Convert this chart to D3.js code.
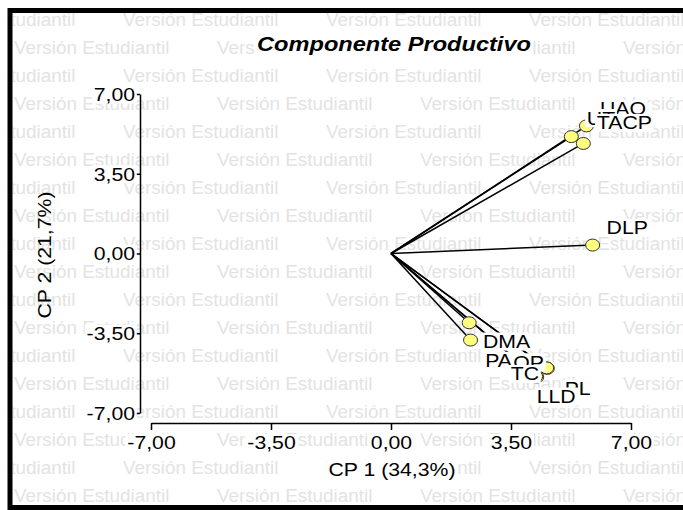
<!DOCTYPE html>
<html><head><meta charset="utf-8">
<script src="https://cdn.jsdelivr.net/npm/d3@7"></script>
<style>body{margin:0;background:#fff}svg{display:block}</style>
</head><body><script>
// ---- data ----
const variables = ["UAO", "UT", "TACP", "DLP", "DMA", "PA", "OP", "TC", "PL", "LLD"];
const cp1Values = [5.70, 5.26, 5.61, 5.88, 2.32, 2.28, 4.56, 4.25, 4.54, 4.22];
const cp2Values = [5.60, 5.13, 4.83, 0.37, -3.80, -3.04, -5.04, -5.42, -5.02, -5.40];
const tickValues = [-7, -3.5, 0, 3.5, 7];
const tickLabels = ["-7,00", "-3,50", "0,00", "3,50", "7,00"];
const chartTitle = "Componente Productivo";
const xTitle = "CP 1 (34,3%)";
const yTitle = "CP 2 (21,7%)";
const watermarkText = "Versión Estudiantil";

// ---- layout: label placement relative to each point (px) ----
const labelOffset = {
  UAO: [13.5, -17], UT: [15.5, -18.5], TACP: [13.5, -20.5], DLP: [14, -17],
  DMA: [12.5, 1.5], PA: [16, 38], OP: [-34, -6], TC: [-26, -3], PL: [18, 21], LLD: [1, 20]
};
const SX = 1.18;   // horizontal stretch of the original picture's text

const W = 683, H = 510;
const FONT = "'Liberation Sans', Arial, sans-serif";
const svg = d3.select("body").append("svg").attr("width", W).attr("height", H)
  .style("font-family", FONT);

svg.append("defs").append("clipPath").attr("id", "inside")
  .append("rect").attr("x", 12.5).attr("y", 13).attr("width", W).attr("height", 491.5);

// stretched text with optional white box
function sText(parent, tx, ty, txt, o) {
  const g = parent.append("g")
    .attr("transform", `translate(${tx},${ty}) rotate(${o.rotate || 0}) scale(${o.sx || SX},1)`);
  const t = g.append("text").attr("x", 0).attr("y", 0).text(txt)
    .attr("font-size", o.size).attr("text-anchor", o.anchor || "start")
    .attr("dominant-baseline", "central").attr("fill", o.fill || "#000");
  if (o.weight) t.attr("font-weight", o.weight);
  if (o.style) t.attr("font-style", o.style);
  if (o.box) {
    const b = t.node().getBBox();
    const p = o.pad == null ? 1.5 : o.pad;
    g.insert("rect", "text").attr("x", b.x - p).attr("y", b.y + 1)
      .attr("width", b.width + 2 * p).attr("height", b.height - 2).attr("fill", "#fff");
  }
  return g;
}

// watermark
const wm = svg.append("g").attr("clip-path", "url(#inside)");
for (let r = 0; r < 18; r++) {
  const yy = 20 + r * 28;
  const start = r % 2 === 0 ? -80 : 14;
  for (let k = 0; k < 5; k++) {
    const g = wm.append("g").attr("transform", `translate(${start + k * 203},${yy}) scale(1.05,1)`);
    g.append("text").attr("dominant-baseline", "central").attr("font-size", 18)
      .attr("fill", "#e3e3e3").text(watermarkText);
  }
}

const x = d3.scaleLinear().domain([-7, 7]).range([151, 631]);
const y = d3.scaleLinear().domain([-7, 7]).range([413, 94]);

// axes
const xAxis = d3.axisBottom(x).tickValues(tickValues).tickFormat(() => "")
  .tickSizeInner(7).tickSizeOuter(0);
const yAxis = d3.axisLeft(y).tickValues(tickValues).tickFormat(() => "")
  .tickSizeInner(6).tickSizeOuter(0);
const gx = svg.append("g").attr("transform", "translate(0,423)").call(xAxis);
const gy = svg.append("g").attr("transform", "translate(140,0)").call(yAxis);
[gx, gy].forEach(g => {
  g.select(".domain").attr("stroke", "#000").attr("stroke-width", 1.5);
  g.selectAll(".tick line").attr("stroke", "#000").attr("stroke-width", 1.5);
  g.selectAll(".tick text").remove();
});
gx.selectAll(".tick").each(function (d, i) {
  sText(d3.select(this), 0, 20, tickLabels[i], { size: 18, anchor: "middle", box: true });
});
gy.selectAll(".tick").each(function (d, i) {
  sText(d3.select(this), -5, 0, tickLabels[i], { size: 18, anchor: "end", box: true });
});

// titles
sText(svg, 394, 44, chartTitle, { size: 20, anchor: "middle", weight: "bold", style: "italic", box: true, pad: 2 });
sText(svg, 392, 470, xTitle, { size: 18, anchor: "middle", box: true });
sText(svg, 45, 255, yTitle, { size: 18, anchor: "middle", rotate: -90 });

// vectors
const pts = variables.map((v, i) => ({ name: v, cx: cp1Values[i], cy: cp2Values[i] }));
const plot = svg.append("g");
plot.selectAll("line.vec").data(pts).join("line").attr("class", "vec")
  .attr("x1", x(0)).attr("y1", y(0))
  .attr("x2", d => x(d.cx)).attr("y2", d => y(d.cy))
  .attr("stroke", "#000").attr("stroke-width", 1.5);
plot.selectAll("ellipse").data(pts).join("ellipse")
  .attr("cx", d => x(d.cx)).attr("cy", d => y(d.cy))
  .attr("rx", 7).attr("ry", 6)
  .attr("fill", "#ffff80").attr("stroke", "#333").attr("stroke-width", 1);

// point labels (drawn in order, each on a white box)
const lg = svg.append("g");
pts.forEach(d => {
  const o = labelOffset[d.name];
  sText(lg, x(d.cx) + o[0], y(d.cy) + o[1], d.name, { size: 18, box: true, pad: 1.5 });
});

// border
svg.append("rect").attr("x", 10).attr("y", 10.5).attr("width", 760).attr("height", 497)
  .attr("fill", "none").attr("stroke", "#000").attr("stroke-width", 5);
</script></body></html>
